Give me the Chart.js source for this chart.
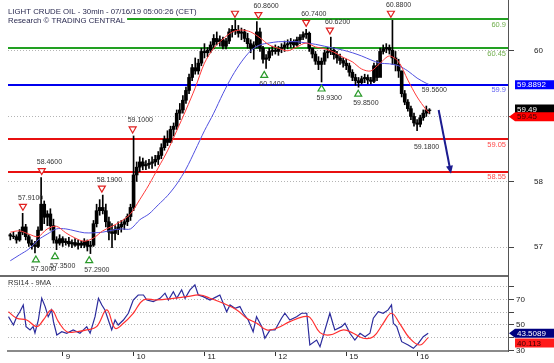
<!DOCTYPE html>
<html>
<head>
<meta charset="utf-8">
<script src="https://cdn.jsdelivr.net/npm/chart.js@4.4.1/dist/chart.umd.min.js"></script>
<style>
  body { margin: 0; background: #fff; }
  #wrap { position: relative; width: 554px; height: 363px; }
  #priceChart { position: absolute; left: 0; top: 0; }
  #rsiChart { position: absolute; left: 0; top: 277px; }
</style>
</head>
<body>
<div id="wrap">
  <canvas id="priceChart" width="554" height="277"></canvas>
  <canvas id="rsiChart" width="554" height="86"></canvas>
</div>
<script>
// hourly bars, index 0 = Jul 8 ~06:00 CET
const highs = [
  57.60, 57.62, 57.58, 57.66, 57.91, 57.74, 57.58, 57.50, 57.48, 57.70,
  58.46, 58.10, 57.95, 57.98, 57.82, 57.55, 57.58, 57.55, 57.52, 57.54,
  57.50, 57.52, 57.50, 57.48, 57.52, 57.50, 57.48, 57.80, 58.05, 58.12,
  58.19, 58.05, 57.85, 57.75, 57.72, 57.78, 57.80, 57.82, 57.90, 58.05,
  59.10, 58.70, 58.78, 58.76, 58.72, 58.74, 58.78, 58.80, 58.86, 58.98,
  59.10, 59.18, 59.25, 59.30, 59.50, 59.60, 59.72, 59.85, 60.05, 60.20,
  60.30, 60.28, 60.45, 60.52, 60.46, 60.55, 60.66, 60.70, 60.64, 60.62,
  60.60, 60.75, 60.80, 60.88, 60.80, 60.76, 60.74, 60.68, 60.58, 60.55,
  60.86, 60.76, 60.48, 60.35, 60.45, 60.48, 60.50, 60.48, 60.52, 60.56,
  60.58, 60.60, 60.58, 60.62, 60.66, 60.70, 60.74, 60.70, 60.45, 60.40,
  60.32, 60.30, 60.42, 60.46, 60.62, 60.46, 60.40, 60.36, 60.30, 60.28,
  60.22, 60.12, 60.05, 60.00, 60.02, 60.05, 60.04, 60.00, 60.22, 60.26,
  60.45, 60.50, 60.52, 60.50, 60.88, 60.40, 60.28, 60.10, 59.80, 59.66,
  59.56, 59.45, 59.35, 59.42, 59.50, 59.56, 59.52
];
const lows = [
  57.50, 57.52, 57.45, 57.48, 57.58, 57.50, 57.40, 57.36, 57.30, 57.38,
  57.65, 57.75, 57.72, 57.65, 57.45, 57.35, 57.42, 57.40, 57.42, 57.40,
  57.38, 57.40, 57.36, 57.38, 57.38, 57.33, 57.29, 57.40, 57.70, 57.88,
  57.90, 57.70, 57.50, 57.38, 57.50, 57.58, 57.62, 57.66, 57.72, 57.80,
  57.95, 58.40, 58.55, 58.58, 58.58, 58.60, 58.60, 58.64, 58.66, 58.75,
  58.88, 58.95, 59.00, 59.10, 59.20, 59.35, 59.45, 59.60, 59.75, 59.95,
  60.05, 60.05, 60.18, 60.30, 60.32, 60.38, 60.44, 60.50, 60.48, 60.44,
  60.44, 60.52, 60.62, 60.66, 60.62, 60.58, 60.55, 60.45, 60.38, 60.28,
  60.45, 60.40, 60.22, 60.14, 60.26, 60.34, 60.36, 60.34, 60.38, 60.40,
  60.44, 60.46, 60.46, 60.48, 60.52, 60.58, 60.60, 60.40, 60.30, 60.20,
  60.12, 59.93, 60.20, 60.30, 60.35, 60.28, 60.22, 60.20, 60.16, 60.12,
  60.02, 59.95, 59.88, 59.85, 59.90, 59.92, 59.90, 59.90, 59.92, 59.95,
  60.15, 60.36, 60.38, 60.36, 60.20, 60.10, 60.00, 59.70, 59.58, 59.48,
  59.35, 59.25, 59.18, 59.24, 59.34, 59.40, 59.44
];
const closes = [
  57.56, 57.55, 57.50, 57.62, 57.70, 57.55, 57.45, 57.42, 57.40, 57.65,
  58.05, 57.85, 57.90, 57.72, 57.50, 57.45, 57.52, 57.46, 57.48, 57.44,
  57.46, 57.42, 57.45, 57.42, 57.48, 57.40, 57.42, 57.75, 57.95, 58.00,
  57.95, 57.78, 57.62, 57.60, 57.66, 57.70, 57.74, 57.78, 57.86, 58.00,
  58.50, 58.62, 58.70, 58.64, 58.66, 58.68, 58.70, 58.74, 58.80, 58.92,
  59.05, 59.00, 59.20, 59.25, 59.45, 59.50, 59.65, 59.80, 60.00, 60.15,
  60.10, 60.22, 60.40, 60.38, 60.42, 60.50, 60.60, 60.55, 60.58, 60.48,
  60.56, 60.70, 60.74, 60.72, 60.68, 60.70, 60.60, 60.52, 60.45, 60.50,
  60.70, 60.45, 60.28, 60.30, 60.40, 60.42, 60.40, 60.44, 60.46, 60.50,
  60.52, 60.55, 60.50, 60.58, 60.62, 60.66, 60.68, 60.45, 60.36, 60.25,
  60.20, 60.25, 60.38, 60.40, 60.42, 60.35, 60.30, 60.26, 60.22, 60.18,
  60.08, 60.00, 59.95, 59.92, 59.98, 60.00, 59.96, 59.94, 60.18, 60.00,
  60.40, 60.44, 60.46, 60.42, 60.30, 60.20, 60.10, 59.75, 59.62, 59.52,
  59.40, 59.30, 59.28, 59.38, 59.45, 59.50, 59.49
];

// moving averages
const maIdx = [0, 3, 6, 9, 12, 15, 18, 21, 24, 27, 30, 33, 36, 39, 42, 45, 48, 51, 54, 57,
  60, 63, 66, 69, 72, 75, 78, 81, 84, 87, 90, 93, 96, 99, 102, 105, 108, 111, 114, 117,
  120, 123, 126, 129, 132, 135, 136];
const redMa = [57.62, 57.64, 57.59, 57.55, 57.67, 57.71, 57.61, 57.53, 57.48, 57.53,
  57.64, 57.71, 57.79, 57.90, 58.12, 58.35, 58.61, 58.87, 59.18, 59.50,
  59.84, 60.22, 60.45, 60.59, 60.70, 60.73, 60.70, 60.61, 60.50, 60.45,
  60.41, 60.47, 60.53, 60.47, 60.44, 60.39, 60.31, 60.24, 60.13, 60.10,
  60.22, 60.33, 60.24, 59.96, 59.70, 59.50, 59.45];
const blueMa = [57.18, 57.27, 57.36, 57.50, 57.59, 57.67, 57.67, 57.64, 57.61, 57.61,
  57.62, 57.65, 57.67, 57.67, 57.81, 57.90, 58.04, 58.18, 58.36, 58.59,
  58.88, 59.18, 59.45, 59.75, 60.02, 60.24, 60.41, 60.50, 60.53, 60.55,
  60.55, 60.55, 60.53, 60.51, 60.48, 60.45, 60.42, 60.38, 60.33, 60.27,
  60.22, 60.21, 60.18, 60.10, 59.99, 59.91, 59.8892];

// RSI14 and its 9MA
const rsiX = [-0.6, 1.0, 2.1, 3.1, 4.2, 5.1, 6.4, 7.4, 8.0, 9.1, 10.2, 11.3, 12.3, 13.4, 14.0, 15.1,
  16.7, 18.3, 20.4, 22.6, 24.8, 25.9, 27.5, 28.6, 29.7, 30.7, 31.8, 32.9, 34.0, 35.0, 36.7, 38.3,
  39.9, 41.5, 43.2, 44.3, 46.4, 48.6, 50.2, 51.3, 52.9, 54.0, 55.6, 56.7, 58.3, 59.9, 61.0, 62.6,
  64.8, 67.0, 68.0, 70.2, 71.3, 72.9, 74.5, 75.6, 77.2, 78.8, 79.9, 81.6, 82.6, 84.3, 85.9, 88.0,
  89.1, 90.7, 92.9, 94.5, 96.2, 97.2, 99.4, 100.5, 102.1, 103.7, 105.3, 107.5, 108.6, 110.2, 111.8,
  113.5, 115.1, 116.7, 117.8, 119.4, 121.0, 122.6, 123.7, 124.3, 125.4, 127.0, 129.1, 130.8, 132.4,
  134.0, 135.6];
const rsiVal = [56.5, 50, 56.5, 60.4, 65.7, 48.7, 46.1, 48.7, 43.7, 53.9, 70.9, 64.4, 56.5, 61.8, 52.6, 42.2,
  44.7, 43.5, 46.1, 43.5, 48.7, 43.5, 56.5, 70.9, 65.7, 61.8, 53.9, 46.1, 53.9, 50, 53.9, 59.2,
  69.6, 73.5, 73.5, 69.6, 68.3, 70.9, 74.9, 69.6, 76.1, 70.9, 77.5, 70.9, 77.5, 81.4, 73.5, 72.2,
  69.6, 72.2, 73.5, 60.4, 65.7, 63.1, 64.4, 59.2, 53.9, 44.7, 56.5, 48.7, 39.6, 46.1, 46.1, 55.3,
  59.2, 53.9, 56.5, 59.2, 59.2, 34.3, 38.2, 33.0, 46.1, 59.2, 46.1, 48.7, 51.3, 43.5, 38.2,
  43.5, 40.8, 43.5, 55.3, 60.4, 59.2, 61.8, 65.7, 51.3, 48.7, 36.9, 34.3, 31.7, 35.6,
  40.8, 43.5089];
const rsiMaX = [-0.6, 2.1, 5.3, 8.6, 10.7, 13.4, 15.6, 18.3, 21.5, 24.8, 28.0, 31.3, 34.0, 36.7,
  39.9, 43.2, 47.5, 52.9, 57.2, 61.6, 64.8, 69.1, 73.5, 76.7, 80.0, 83.2, 86.4, 90.7, 95.1, 97.2,
  100.5, 103.7, 108.1, 111.3, 114.5, 117.8, 121.0, 123.7, 126.3, 129.6, 132.9, 135.6];
const rsiMaVal = [60.4, 55.3, 53.9, 48.7, 53.9, 61.8, 52.6, 44.7, 44.7, 46.1, 48.7, 61.8, 47.4, 51.3,
  59.2, 69.6, 69.6, 70.9, 72.2, 73.5, 70.9, 67.0, 61.8, 55.3, 51.3, 46.1, 47.4, 52.6, 56.5, 56.0,
  44.0, 42.2, 46.1, 43.5, 39.6, 40.8, 51.3, 59.2, 51.3, 39.6, 34.3, 40.113];

// day separators on the time axis
const dayTicks = [17, 40, 63, 86, 109, 132];
const dayLabels = ['9', '10', '11', '12', '15', '16'];
const axisTicks = [57, 58, 59, 60];
const rsiTicks = [30, 40, 50, 60, 70, 80];

// support / resistance levels
const levels = [60.9, 60.45, 59.8892, 59.05, 58.55];
const levelLabels = ['60.9', '60.45', '59.9', '59.05', '58.55'];
const levelColors = ['#22a022', '#22a022', '#0000ee', '#e81010', '#e81010'];
const levelTextColors = ['#6fae4c', '#6fae4c', '#6262f0', '#ff4a4a', '#ff4a4a'];

// swing highs / lows
const peakIdx = [4.1, 10.2, 29.7, 39.7, 72.9, 80.5, 96, 103.7, 123.5];
const peakVals = [57.91, 58.46, 58.19, 59.10, 60.88, 60.86, 60.74, 60.62, 60.88];
const peakLabels = ['57.9100', '58.4600', '58.1900', '59.1000', '', '60.8600', '60.7400', '60.6200', '60.8800'];
const troughIdx = [8.3, 14.5, 25.6, 82.4, 101, 112.9];
const troughVals = [57.30, 57.35, 57.29, 60.14, 59.93, 59.85];
const troughLabels = ['57.3000', '57.3500', '57.2900', '60.1400', '59.9300', '59.8500'];
const noteIdx = [135.1, 132.6];
const noteVals = [59.56, 59.18];
const noteLabels = ['59.5600', '59.1800'];
const noteDir = [1, -1];

// projected move
const arrowFrom = { x: 139, y: 59.50 };
const arrowTo = { x: 143, y: 58.52 };

const FONT = '"Liberation Sans", Arial, sans-serif';
Chart.defaults.font.family = FONT;

const opens = closes.map((c, i) => i === 0 ? 57.58 : closes[i - 1]);

function triangle(ctx, x, y, up, color) {
  ctx.beginPath();
  if (up) {
    ctx.moveTo(x, y - 3); ctx.lineTo(x + 3.5, y + 3); ctx.lineTo(x - 3.5, y + 3);
  } else {
    ctx.moveTo(x, y + 3); ctx.lineTo(x + 3.5, y - 3); ctx.lineTo(x - 3.5, y - 3);
  }
  ctx.closePath();
  ctx.fillStyle = '#fff';
  ctx.fill();
  ctx.strokeStyle = color;
  ctx.lineWidth = 1.2;
  ctx.stroke();
}

function valueBox(ctx, x, y, text, bg, fg, pointer) {
  ctx.fillStyle = bg;
  ctx.beginPath();
  if (pointer) {
    ctx.moveTo(x - 6, y);
    ctx.lineTo(x, y - 4.5);
  } else {
    ctx.moveTo(x, y - 4.5);
  }
  ctx.lineTo(554, y - 4.5);
  ctx.lineTo(554, y + 4.5);
  ctx.lineTo(x, y + 4.5);
  ctx.closePath();
  ctx.fill();
  ctx.fillStyle = fg;
  ctx.font = '8px ' + FONT;
  ctx.textAlign = 'left';
  ctx.textBaseline = 'middle';
  ctx.fillText(text, x + 2, y + 0.5);
}

const priceOverlay = {
  id: 'priceOverlay',
  beforeDatasetsDraw(chart) {
    const ctx = chart.ctx, area = chart.chartArea, ys = chart.scales.price;
    ctx.save();
    levels.forEach((v, k) => {
      const y = Math.round(ys.getPixelForValue(v));
      ctx.strokeStyle = levelColors[k];
      ctx.lineWidth = 2;
      ctx.beginPath();
      ctx.moveTo(area.left, y);
      ctx.lineTo(area.right, y);
      ctx.stroke();
    });
    ctx.restore();
  },
  afterDatasetsDraw(chart) {
    const ctx = chart.ctx, area = chart.chartArea;
    const xs = chart.scales.x, ys = chart.scales.price;
    ctx.save();
    ctx.font = '7.5px ' + FONT;
    ctx.textAlign = 'right';
    ctx.textBaseline = 'middle';
    levels.forEach((v, k) => {
      ctx.fillStyle = levelTextColors[k];
      ctx.fillText(levelLabels[k], area.right - 2, ys.getPixelForValue(v) + 5.5);
    });

    ctx.font = '7px ' + FONT;
    ctx.textAlign = 'left';
    peakIdx.forEach((i, k) => {
      const x = xs.getPixelForValue(i);
      const y = ys.getPixelForValue(peakVals[k]) - 6;
      triangle(ctx, x, y, false, '#e02020');
      if (peakLabels[k]) {
        ctx.fillStyle = '#333';
        ctx.fillText(peakLabels[k], x - 5, y - 9.5);
      }
    });
    troughIdx.forEach((i, k) => {
      const x = xs.getPixelForValue(i);
      const y = ys.getPixelForValue(troughVals[k]) + 6;
      triangle(ctx, x, y, true, '#2a9a2a');
      ctx.fillStyle = '#333';
      ctx.fillText(troughLabels[k], x - 5, y + 10);
    });
    noteIdx.forEach((i, k) => {
      const x = xs.getPixelForValue(i);
      const y = ys.getPixelForValue(noteVals[k]) - noteDir[k] * 16;
      ctx.fillStyle = '#333';
      ctx.fillText(noteLabels[k], x - 5, y);
    });

    // arrow
    const x1 = xs.getPixelForValue(arrowFrom.x), y1 = ys.getPixelForValue(arrowFrom.y);
    const x2 = xs.getPixelForValue(arrowTo.x), y2 = ys.getPixelForValue(arrowTo.y);
    const ang = Math.atan2(y2 - y1, x2 - x1);
    ctx.strokeStyle = '#1c1c90';
    ctx.fillStyle = '#1c1c90';
    ctx.lineWidth = 2;
    ctx.beginPath();
    ctx.moveTo(x1, y1);
    ctx.lineTo(x2 - 5 * Math.cos(ang), y2 - 5 * Math.sin(ang));
    ctx.stroke();
    ctx.beginPath();
    ctx.moveTo(x2, y2);
    ctx.lineTo(x2 - 8 * Math.cos(ang) + 3.5 * Math.sin(ang), y2 - 8 * Math.sin(ang) - 3.5 * Math.cos(ang));
    ctx.lineTo(x2 - 8 * Math.cos(ang) - 3.5 * Math.sin(ang), y2 - 8 * Math.sin(ang) + 3.5 * Math.cos(ang));
    ctx.closePath();
    ctx.fill();

    // title block
    ctx.font = '7.8px ' + FONT;
    ctx.textBaseline = 'middle';
    const t1 = 'LIGHT CRUDE OIL - 30min - 07/16/19 05:00:26 (CET)';
    const t2 = 'Research \u00a9 TRADING CENTRAL';
    ctx.fillStyle = '#fff';
    ctx.fillRect(area.left, 6, ctx.measureText(t1).width + 2, 10);
    ctx.fillRect(area.left, 16, ctx.measureText(t2).width + 2, 9);
    ctx.fillStyle = '#2a2a50';
    ctx.fillText(t1, area.left, 11.5);
    ctx.fillText(t2, area.left, 20.5);

    // panel separator
    ctx.strokeStyle = '#6a6a6a';
    ctx.lineWidth = 2;
    ctx.beginPath();
    ctx.moveTo(0, 276);
    ctx.lineTo(area.right, 276);
    ctx.stroke();
    ctx.restore();
  },
  afterDraw(chart) {
    const ctx = chart.ctx, ys = chart.scales.price;
    ctx.save();
    const n = closes.length - 1;
    valueBox(ctx, 515, ys.getPixelForValue(blueMa[blueMa.length - 1]), '59.8892', '#0000ff', '#fff', false);
    valueBox(ctx, 515, ys.getPixelForValue(closes[n]) - 1.5, closes[n].toFixed(2), '#000', '#fff', false);
    valueBox(ctx, 515, ys.getPixelForValue(redMa[redMa.length - 1]) + 3.5, redMa[redMa.length - 1].toFixed(2), '#ff0000', '#3a0000', true);
    ctx.restore();
  }
};

new Chart(document.getElementById('priceChart'), {
  type: 'bar',
  data: {
    datasets: [
      {
        type: 'line',
        data: maIdx.map((x, k) => ({ x: x, y: redMa[k] })),
        borderColor: '#ff3a3a', borderWidth: 1, pointRadius: 0, tension: 0.3,
        xAxisID: 'x', yAxisID: 'price'
      },
      {
        type: 'line',
        data: maIdx.map((x, k) => ({ x: x, y: blueMa[k] })),
        borderColor: '#5050e0', borderWidth: 1, pointRadius: 0, tension: 0.3,
        xAxisID: 'x', yAxisID: 'price'
      },
      {
        type: 'bar',
        data: closes.map((c, i) => ({ x: i, y: [opens[i], c] })),
        backgroundColor: '#000', barThickness: 3, grouped: false,
        xAxisID: 'x', yAxisID: 'price'
      },
      {
        type: 'bar',
        data: highs.map((h, i) => ({ x: i, y: [lows[i], h] })),
        backgroundColor: '#000', barThickness: 1, grouped: false,
        xAxisID: 'x', yAxisID: 'price'
      }
    ]
  },
  options: {
    responsive: false,
    animation: false,
    layout: { padding: { left: 8, right: 0, top: 0, bottom: 0 } },
    plugins: { legend: { display: false }, tooltip: { enabled: false } },
    scales: {
      x: { type: 'linear', min: -0.75, max: 161.5, display: false, offset: false },
      price: { type: 'linear', min: 56.93, max: 61.1915, display: false },
      axis: {
        type: 'linear', position: 'right', min: 56.545, max: 60.774,
        afterBuildTicks: s => { s.ticks = axisTicks.map(v => ({ value: v })); },
        afterFit: s => { s.width = 46; s.paddingTop = 0; s.paddingBottom = 0; },
        ticks: { padding: 20, color: '#222', font: { size: 8 } },
        grid: { color: '#b4b4b4', tickLength: 6, tickColor: '#444', tickBorderDash: [] },
        border: { color: '#555', width: 1, dash: [1, 2] }
      }
    }
  },
  plugins: [priceOverlay]
});

const rsiOverlay = {
  id: 'rsiOverlay',
  afterDraw(chart) {
    const ctx = chart.ctx, ys = chart.scales.y;
    ctx.save();
    ctx.font = '7.5px ' + FONT;
    ctx.fillStyle = '#333';
    ctx.textAlign = 'left';
    ctx.textBaseline = 'middle';
    ctx.fillText('RSI14 - 9MA', 8, 6);
    valueBox(ctx, 515, ys.getPixelForValue(rsiVal[rsiVal.length - 1]), '43.5089', '#00007f', '#fff', true);
    valueBox(ctx, 515, ys.getPixelForValue(rsiMaVal[rsiMaVal.length - 1]) + 5.5, '40.113', '#ff1a1a', '#3a0000', false);
    ctx.restore();
  }
};

new Chart(document.getElementById('rsiChart'), {
  type: 'line',
  data: {
    datasets: [
      {
        data: rsiMaX.map((x, k) => ({ x: x, y: rsiMaVal[k] })),
        borderColor: '#ff3030', borderWidth: 1.2, pointRadius: 0, tension: 0.4
      },
      {
        data: rsiX.map((x, k) => ({ x: x, y: rsiVal[k] })),
        borderColor: '#2b2b9c', borderWidth: 1.2, pointRadius: 0, tension: 0
      }
    ]
  },
  options: {
    responsive: false,
    animation: false,
    layout: { padding: { left: 8, right: 0, top: 0, bottom: 0 } },
    plugins: { legend: { display: false }, tooltip: { enabled: false } },
    scales: {
      x: {
        type: 'linear', min: -0.75, max: 161.5,
        afterBuildTicks: s => { s.ticks = dayTicks.map(v => ({ value: v })); },
        afterFit: s => { s.height = 12; s.paddingLeft = 0; s.paddingRight = 0; },
        ticks: {
          callback: v => dayLabels[dayTicks.indexOf(v)],
          align: 'start', labelOffset: 3, padding: -4, autoSkip: false, maxRotation: 0,
          color: '#222', font: { size: 8 }
        },
        grid: { drawOnChartArea: false, tickLength: 5, tickColor: '#333' },
        border: { color: '#8a8a8a', width: 2 }
      },
      y: {
        position: 'right', min: 29.6, max: 87.6,
        afterBuildTicks: s => { s.ticks = rsiTicks.map(v => ({ value: v })); },
        afterFit: s => { s.width = 46; s.paddingTop = 0; s.paddingBottom = 0; },
        ticks: {
          callback: v => (v === 30 || v === 50 || v === 70) ? String(v) : '',
          padding: 2, color: '#222', font: { size: 8 }
        },
        grid: { color: '#b4b4b4', tickLength: 6, tickColor: '#444', tickBorderDash: [] },
        border: { color: '#555', width: 1, dash: [1, 2] }
      }
    }
  },
  plugins: [rsiOverlay]
});
</script>
</body>
</html>
